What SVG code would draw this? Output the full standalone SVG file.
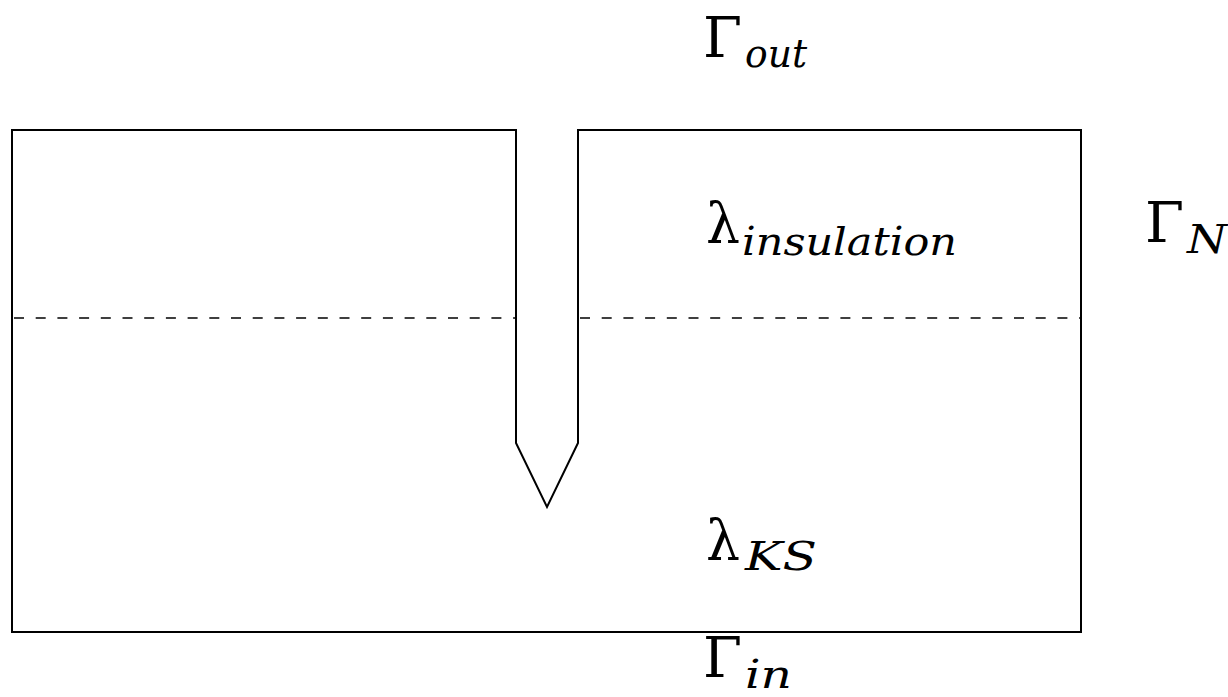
<svg xmlns="http://www.w3.org/2000/svg" width="1228" height="697" viewBox="0 0 1228 697">
<style>
.ln{fill:none;stroke:#000;stroke-width:2;stroke-linejoin:miter}
.ds{fill:none;stroke:#000;stroke-width:1.6;stroke-dasharray:10 11.7}
.m{font-family:"DejaVu Serif","Liberation Serif",serif;font-size:56px;fill:#000}
.s{font-family:"DejaVu Serif","Liberation Serif",serif;font-style:italic;font-size:40px;fill:#000}
</style>
<rect width="1228" height="697" fill="#fff"/>
<g id="domain">
<path class="ln" d="M516,130 L12,130 L12,632 L1081,632 L1081,130 L578,130 L578,443 L547,507 L516,443 Z"/>
</g>
<g id="interface">
<path class="ds" d="M12,318 H516" stroke-dashoffset="-2"/>
<path class="ds" d="M578,318 H1081" stroke-dashoffset="-2"/>
</g>
<g id="label-out">
<text class="m" x="703" y="57" textLength="39" lengthAdjust="spacingAndGlyphs">Γ</text>
<text class="s" x="745" y="67" textLength="62" lengthAdjust="spacingAndGlyphs">out</text>
</g>
<g id="label-insulation">
<text class="m" x="706" y="243" textLength="34" lengthAdjust="spacingAndGlyphs">λ</text>
<text class="s" x="742" y="255" textLength="215" lengthAdjust="spacingAndGlyphs">insulation</text>
</g>
<g id="label-N">
<text class="m" x="1145" y="242" textLength="39" lengthAdjust="spacingAndGlyphs">Γ</text>
<text class="s" x="1187" y="253" textLength="40" lengthAdjust="spacingAndGlyphs">N</text>
</g>
<g id="label-KS">
<text class="m" x="706" y="560" textLength="34" lengthAdjust="spacingAndGlyphs">λ</text>
<text class="s" x="745" y="570" textLength="72" lengthAdjust="spacingAndGlyphs">KS</text>
</g>
<g id="label-in">
<text class="m" x="703" y="677" textLength="39" lengthAdjust="spacingAndGlyphs">Γ</text>
<text class="s" x="745" y="688" textLength="47" lengthAdjust="spacingAndGlyphs">in</text>
</g>
</svg>
